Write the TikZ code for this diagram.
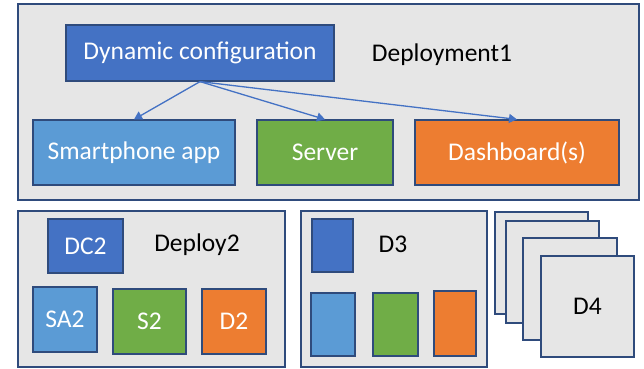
\documentclass[tikz,border=0pt]{standalone}
\usepackage{fontspec}
\setmainfont{Carlito}
\usepackage{xcolor}
\usepackage{tikz}
\usetikzlibrary{shapes,arrows,arrows.meta,positioning}

\definecolor{edgeblue}{HTML}{2F4B7C}
\definecolor{panelgray}{HTML}{E6E6E6}
\definecolor{dcblue}{HTML}{4472C4}
\definecolor{appblue}{HTML}{5B9BD5}
\definecolor{srvgreen}{HTML}{70AD47}
\definecolor{dashorange}{HTML}{ED7D31}

\begin{document}
\begin{tikzpicture}[x=1pt, y=-1pt,
    panel/.style={rectangle, draw=edgeblue, line width=1.2pt, fill=panelgray, inner sep=0pt},
    part/.style={rectangle, draw=edgeblue, line width=1.2pt, text=white, inner sep=0pt, font=\fontsize{25.5}{28}\selectfont},
    dcbox/.style={part, fill=dcblue},
    appbox/.style={part, fill=appblue},
    srvbox/.style={part, fill=srvgreen},
    dashbox/.style={part, fill=dashorange},
    lbltext/.style={inner sep=0pt, text=black, font=\fontsize{25.5}{28}\selectfont},
    arrow/.style={draw=dcblue, line width=1.3pt, -{Triangle[length=8pt,width=9pt]}}
]
\useasboundingbox (0,0) rectangle (644,368);

% Deployment 1
\node[panel, minimum width=621, minimum height=196] (dep1) at (328.5,102) {};
\node[dcbox, minimum width=268, minimum height=56] (dynconf) at (200,53) {Dynamic configuration};
\node[lbltext] (dep1_lbl) at (442,55) {Deployment1};
\node[appbox, minimum width=202, minimum height=65] (phone) at (134,152.5) {Smartphone app};
\node[srvbox, minimum width=136, minimum height=65] (server) at (325,152.5) {Server};
\node[dashbox, minimum width=204, minimum height=65] (dashb) at (517,152.5) {Dashboard(s)};

% Arrows
\draw[arrow] (dynconf.south) -- (phone.north);
\draw[arrow] (dynconf.south) -- (server.north);
\draw[arrow] (dynconf.south) -- (dashb.north);

% Deployment 2
\node[panel, minimum width=267, minimum height=156] (dep2) at (151.5,289) {};
\node[dcbox, minimum width=75, minimum height=54] (dc2) at (85.5,246) {DC2};
\node[lbltext] (dep2_lbl) at (197,245) {Deploy2};
\node[appbox, minimum width=64, minimum height=65] (sa2) at (65,319.5) {SA2};
\node[srvbox, minimum width=73, minimum height=65] (s2) at (149.5,321.5) {S2};
\node[dashbox, minimum width=64, minimum height=65] (d2) at (234,321.5) {D2};

% Deployment 3
\node[panel, minimum width=186, minimum height=156] (dep3) at (394,289) {};
\node[dcbox, minimum width=41, minimum height=53] (dc3) at (332.5,245.5) {};
\node[lbltext] (dep3_lbl) at (393,244) {D3};
\node[appbox, minimum width=44, minimum height=63] (sa3) at (333,324.5) {};
\node[srvbox, minimum width=45, minimum height=63] (s3) at (395.5,324.5) {};
\node[dashbox, minimum width=42, minimum height=65] (d3) at (455,323.5) {};

% Deployment 4 (stack)
\node[panel, minimum width=93, minimum height=102] (dep4a) at (541.5,263) {};
\node[panel, minimum width=93, minimum height=102] (dep4b) at (552.5,272) {};
\node[panel, minimum width=94, minimum height=102] (dep4c) at (570,289) {};
\node[panel, minimum width=93, minimum height=101, font=\fontsize{25.5}{28}\selectfont] (dep4d) at (587.5,306.5) {D4};

\end{tikzpicture}
\end{document}
